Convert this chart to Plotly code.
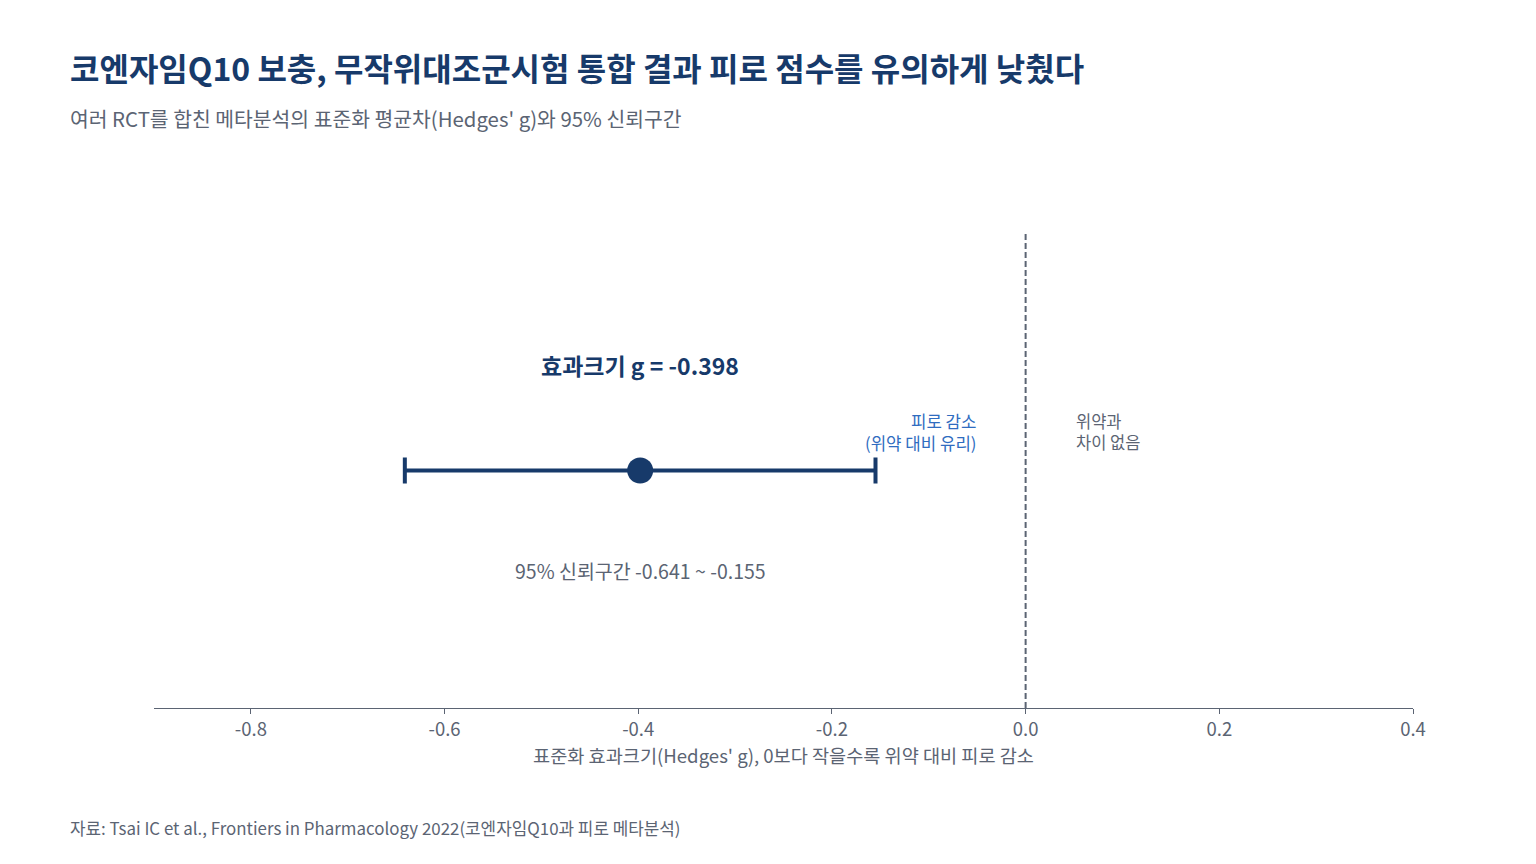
import plotly.graph_objects as go

# meta-analysis pooled result
study = ["코엔자임Q10 vs 위약"]
hedges_g = [-0.398]
ci_low = [-0.641]
ci_high = [-0.155]
ypos = [0]
xticks = [-0.8, -0.6, -0.4, -0.2, 0.0, 0.2, 0.4]

NAVY = "#173a6a"
GREY = "#5b6473"
BLUE = "#2f6cc0"
FONT = "Noto Sans CJK KR"

W, H = 1528, 856
ML, MR, MT, MB = 146, 123, 225, 156
PW, PH = W - ML - MR, H - MT - MB


def px(x):
    return (x - ML) / PW


def py(y):
    return (H - MB - y) / PH


err_plus = [h - g for g, h in zip(hedges_g, ci_high)]
err_minus = [g - l for g, l in zip(hedges_g, ci_low)]

fig = go.Figure()
fig.add_trace(go.Scatter(
    x=hedges_g, y=ypos, mode="markers", name=study[0],
    marker=dict(color=NAVY, size=26),
    error_x=dict(type="data", symmetric=False, array=err_plus, arrayminus=err_minus,
                 color=NAVY, thickness=4, width=13),
    hovertemplate="g = %{x}<extra></extra>",
))

# no-effect reference line
fig.add_shape(type="line", x0=0, x1=0, xref="x", y0=0, y1=1, yref="paper",
              line=dict(color=GREY, width=2, dash="6px,3px"))

fig.add_annotation(x=hedges_g[0], y=ypos[0], yshift=106, showarrow=False,
                   text=f"<b>효과크기 g = {hedges_g[0]:.3f}</b>",
                   font=dict(size=23, color=NAVY, family=FONT))
fig.add_annotation(x=hedges_g[0], y=ypos[0], yshift=-100, showarrow=False,
                   text=f"95% 신뢰구간 {ci_low[0]:.3f} ~ {ci_high[0]:.3f}",
                   font=dict(size=19.5, color=GREY, family=FONT))
fig.add_annotation(x=-0.048, y=ypos[0], yshift=39, showarrow=False, xanchor="right",
                   align="right", text="피로 감소<br>(위약 대비 유리)",
                   font=dict(size=16.8, color=BLUE, family=FONT))
fig.add_annotation(x=0.05, y=ypos[0], yshift=39, showarrow=False, xanchor="left",
                   align="left", text="위약과<br>차이 없음",
                   font=dict(size=16.5, color=GREY, family=FONT))

# title, subtitle, source
fig.add_annotation(text="<b>코엔자임Q10 보충, 무작위대조군시험 통합 결과 피로 점수를 유의하게 낮췄다</b>",
                   xref="paper", yref="paper", x=px(60), y=py(59),
                   xanchor="left", yanchor="middle", showarrow=False,
                   font=dict(size=32, color=NAVY, family=FONT))
fig.add_annotation(text="여러 RCT를 합친 메타분석의 표준화 평균차(Hedges' g)와 95% 신뢰구간",
                   xref="paper", yref="paper", x=px(60), y=py(110),
                   xanchor="left", yanchor="middle", showarrow=False,
                   font=dict(size=20.4, color=GREY, family=FONT))
fig.add_annotation(text="자료: Tsai IC et al., Frontiers in Pharmacology 2022(코엔자임Q10과 피로 메타분석)",
                   xref="paper", yref="paper", x=px(60), y=py(819),
                   xanchor="left", yanchor="middle", showarrow=False,
                   font=dict(size=16.9, color=GREY, family=FONT))

fig.update_layout(
    width=W, height=H,
    paper_bgcolor="white", plot_bgcolor="white",
    font=dict(family=FONT, color=GREY),
    margin=dict(l=ML, r=MR, t=MT, b=MB),
    showlegend=False,
    xaxis=dict(
        range=[-0.9, 0.4], tickvals=xticks,
        ticktext=[f"{v:.1f}" for v in xticks],
        showgrid=False, zeroline=False, showline=True, linecolor=GREY, linewidth=1,
        ticks="outside", ticklen=5, tickcolor=GREY,
        tickfont=dict(size=18.5, color=GREY),
        title=dict(text="표준화 효과크기(Hedges' g), 0보다 작을수록 위약 대비 피로 감소",
                   font=dict(size=18.6, color=GREY), standoff=6),
    ),
    yaxis=dict(range=[-1, 1], visible=False, fixedrange=True),
)

fig.write_html("out.html")
